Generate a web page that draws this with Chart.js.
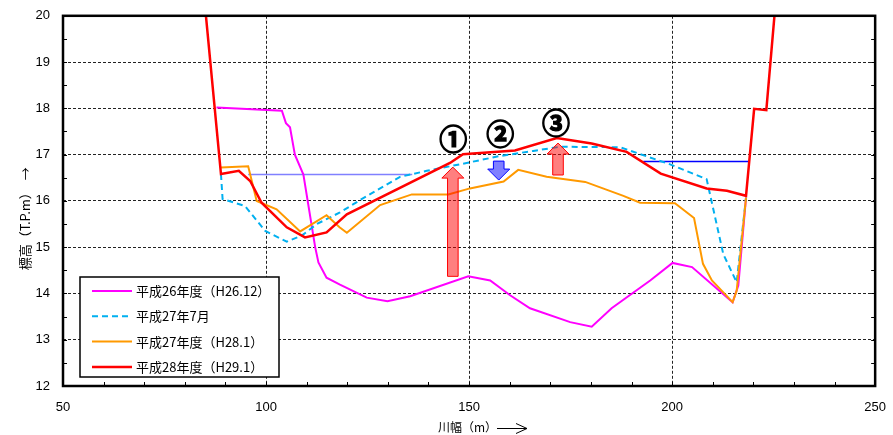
<!DOCTYPE html>
<html>
<head>
<meta charset="utf-8">
<script src="https://cdn.jsdelivr.net/npm/chart.js@4.4.0/dist/chart.umd.min.js"></script>
<style>
  html, body { margin: 0; padding: 0; background: #fff; overflow: hidden; }
  canvas { display: block; margin-top: -5px; }
</style>
</head>
<body>
<canvas id="myChart" width="900" height="440"></canvas>
<script>
// cross-section survey lines (x = river width m, y = elevation T.P.m)
var h26x = [87.8, 103.9, 104.9, 105.9, 107.1, 109.2, 112.1, 112.9, 114.9, 118.2, 124.8, 129.9, 135.5, 149.8, 155.2, 160.1, 165.0, 174.9, 180.2, 185.1, 194.6, 200.1, 204.9, 214.9, 216.3, 218.2]
var h26y = [18.02, 17.95, 17.68, 17.59, 17.0, 16.57, 15.0, 14.67, 14.34, 14.19, 13.91, 13.83, 13.94, 14.37, 14.28, 13.96, 13.68, 13.38, 13.28, 13.68, 14.28, 14.66, 14.57, 13.81, 14.17, 16.07]

var h27jx = [88.9, 89.3, 94.8, 99.8, 105.1, 108.8, 112.5, 118.2, 123.2, 133.0, 139.6, 149.4, 157.6, 165.8, 172.4, 187.2, 199.5, 208.5, 212.6, 215.9, 218.2]
var h27jy = [16.58, 16.04, 15.89, 15.35, 15.12, 15.25, 15.5, 15.75, 16.02, 16.52, 16.65, 16.82, 16.97, 17.08, 17.17, 17.16, 16.79, 16.47, 14.85, 14.24, 16.07]

var h28x = [88.8, 95.6, 97.7, 102.6, 108.4, 114.9, 118.1, 119.9, 128.1, 135.9, 144.9, 150.2, 158.5, 162.1, 169.1, 178.6, 188.0, 192.1, 200.7, 205.4, 207.6, 209.8, 214.9, 215.9, 218.2]
var h28y = [16.72, 16.75, 16.0, 15.82, 15.34, 15.69, 15.43, 15.31, 15.91, 16.14, 16.14, 16.27, 16.42, 16.67, 16.52, 16.41, 16.11, 15.96, 15.95, 15.63, 14.64, 14.28, 13.81, 14.06, 16.07]

var h29x = [85.2, 88.9, 93.3, 96.1, 98.9, 105.1, 109.6, 114.9, 119.9, 145.3, 148.5, 161.3, 171.6, 180.2, 188.8, 197.2, 208.5, 213.5, 218.2, 220.2, 223.2, 225.2]
var h29y = [20.0, 16.58, 16.65, 16.43, 15.96, 15.43, 15.21, 15.32, 15.71, 16.82, 17.01, 17.09, 17.36, 17.24, 17.06, 16.59, 16.27, 16.22, 16.11, 17.99, 17.96, 20.0]

// water levels
var wlLeftX = [95.6, 136.0]
var wlLeftY = [16.57, 16.57]
var wlRightX = [192.9, 218.8]
var wlRightY = [16.85, 16.85]

var seriesLabels = ['平成26年度（H26.12）', '平成27年7月', '平成27年度（H28.1）', '平成28年度（H29.1）']

// change arrows and their circled numbers
var arrowX = [146.0, 157.3, 171.9]
var arrowFrom = [14.37, 16.86, 16.56]
var arrowTo = [16.73, 16.45, 17.25]
var markText = ['①', '②', '③']
var markX = [146.1, 157.7, 171.4]
var markY = [17.33, 17.43, 17.68]

var xTicks = [50, 100, 150, 200, 250]
var yTicks = [12, 13, 14, 15, 16, 17, 18, 19, 20]

function pts(xs, ys) {
    var out = []
    for (let i = 0; i < xs.length; i++) out.push({x: xs[i], y: ys[i]})
    return out
}

var jp = '"Noto Sans CJK JP", sans-serif'

var drawExtras = {
    id: 'drawExtras',
    afterDatasetsDraw: function(chart) {
        var ctx = chart.ctx
        var xs = chart.scales.x, ys = chart.scales.y
        ctx.save()
        for (let i = 0; i < arrowX.length; i++) {
            var cx = xs.getPixelForValue(arrowX[i])
            var y0 = ys.getPixelForValue(arrowFrom[i])
            var y1 = ys.getPixelForValue(arrowTo[i])
            var dir = y1 < y0 ? 1 : -1
            var head = 11, bw = 5.3, hw = 11
            var yb = y1 + dir * head
            ctx.beginPath()
            ctx.moveTo(cx - bw, y0)
            ctx.lineTo(cx - bw, yb)
            ctx.lineTo(cx - hw, yb)
            ctx.lineTo(cx, y1)
            ctx.lineTo(cx + hw, yb)
            ctx.lineTo(cx + bw, yb)
            ctx.lineTo(cx + bw, y0)
            ctx.closePath()
            var up = dir === 1
            ctx.fillStyle = up ? 'rgba(255,0,0,0.5)' : 'rgba(0,0,255,0.5)'
            ctx.strokeStyle = up ? '#ff0000' : '#0000ff'
            ctx.lineWidth = 1
            ctx.fill()
            ctx.stroke()
        }
        // circled numbers, stroked a little to thicken the ring
        ctx.fillStyle = '#000'
        ctx.strokeStyle = '#000'
        ctx.lineWidth = 1.3
        ctx.font = 'bold 28px ' + jp
        ctx.textAlign = 'center'
        ctx.textBaseline = 'middle'
        for (let i = 0; i < markText.length; i++) {
            var mx = xs.getPixelForValue(markX[i]), my = ys.getPixelForValue(markY[i])
            ctx.fillText(markText[i], mx, my)
            ctx.strokeText(markText[i], mx, my)
        }
        ctx.restore()
    },
    afterDraw: function(chart) {
        var ctx = chart.ctx
        var a = chart.chartArea
        var xs = chart.scales.x, ys = chart.scales.y
        ctx.save()
        // small inner ticks
        ctx.strokeStyle = '#000'
        ctx.lineWidth = 1
        ctx.beginPath()
        for (let v = 12.5; v < 20; v += 0.5) {
            var py = Math.round(ys.getPixelForValue(v)) + 0.5
            ctx.moveTo(a.left, py)
            ctx.lineTo(a.left + 4, py)
            ctx.moveTo(a.right, py)
            ctx.lineTo(a.right - 4, py)
        }
        for (let v = 60; v < 250; v += 10) {
            var px = Math.round(xs.getPixelForValue(v)) + 0.5
            ctx.moveTo(px, a.bottom)
            ctx.lineTo(px, a.bottom - 4)
        }
        ctx.stroke()
        // frame
        ctx.lineWidth = 2.5
        ctx.strokeRect(a.left, a.top, a.right - a.left, a.bottom - a.top)

        // legend box
        var lx = a.left + 17, ly = a.bottom - 109
        ctx.fillStyle = '#fff'
        ctx.fillRect(lx, ly, 199, 100)
        ctx.lineWidth = 1.5
        ctx.strokeRect(lx, ly, 199, 100)
        var ds = chart.data.datasets
        ctx.font = '13px ' + jp
        ctx.textAlign = 'left'
        ctx.textBaseline = 'middle'
        for (let i = 0; i < seriesLabels.length; i++) {
            var d = ds[i]
            var yy = ly + 14 + i * 25.3
            ctx.beginPath()
            ctx.strokeStyle = d.borderColor
            ctx.lineWidth = d.borderWidth
            ctx.setLineDash(d.borderDash || [])
            ctx.moveTo(lx + 12, yy)
            ctx.lineTo(lx + 52, yy)
            ctx.stroke()
            ctx.setLineDash([])
            ctx.fillStyle = '#000'
            ctx.fillText(seriesLabels[i], lx + 56, yy)
        }

        // axis titles
        ctx.fillStyle = '#000'
        ctx.font = '13px ' + jp
        ctx.save()
        ctx.translate(25, a.top + 203)
        ctx.rotate(-Math.PI / 2)
        ctx.textAlign = 'center'
        ctx.fillText('標高（T.P.m）  →', 0, 0)
        ctx.restore()

        var ty = a.bottom + 41
        ctx.font = '12px ' + jp
        ctx.textAlign = 'left'
        ctx.fillText('川幅（m）', 438, ty)
        ctx.strokeStyle = '#000'
        ctx.lineWidth = 1
        ctx.beginPath()
        ctx.moveTo(497, ty + 1.5)
        ctx.lineTo(527, ty + 1.5)
        ctx.moveTo(516, ty - 3.5)
        ctx.lineTo(527, ty + 1.5)
        ctx.lineTo(516, ty + 6.5)
        ctx.stroke()
        ctx.restore()
    }
}

var ctx = document.getElementById('myChart')
var myChart = new Chart(ctx, {
    type: 'scatter',
    data: {
        datasets: [
            {label: seriesLabels[0], data: pts(h26x, h26y), showLine: true, borderColor: '#ff00ff', borderWidth: 2, pointRadius: 0, order: 3},
            {label: seriesLabels[1], data: pts(h27jx, h27jy), showLine: true, borderColor: '#00b0f0', borderWidth: 2, borderDash: [6, 4], pointRadius: 0, order: 2},
            {label: seriesLabels[2], data: pts(h28x, h28y), showLine: true, borderColor: '#ff9900', borderWidth: 2, pointRadius: 0, order: 1},
            {label: seriesLabels[3], data: pts(h29x, h29y), showLine: true, borderColor: '#ff0000', borderWidth: 2.5, pointRadius: 0, order: 0},
            {label: 'wl1', data: pts(wlLeftX, wlLeftY), showLine: true, borderColor: '#8080ff', borderWidth: 1.5, pointRadius: 0, order: 5},
            {label: 'wl2', data: pts(wlRightX, wlRightY), showLine: true, borderColor: '#0000ff', borderWidth: 1.5, pointRadius: 0, order: 4}
        ]
    },
    options: {
        responsive: false,
        animation: false,
        devicePixelRatio: 1,
        layout: {padding: {left: 0, top: 9, right: 11, bottom: 0}},
        plugins: {
            legend: {display: false},
            tooltip: {enabled: false}
        },
        scales: {
            x: {
                type: 'linear',
                min: 50, max: 250,
                afterBuildTicks: function(s) { s.ticks = xTicks.map(function(v) { return {value: v} }) },
                afterFit: function(s) { s.height = 49 },
                grid: {color: '#222', lineWidth: 1, drawTicks: false},
                border: {display: false, dash: [3, 2]},
                ticks: {padding: 14, color: '#000', font: {family: '"Liberation Sans", Arial', size: 13}, maxRotation: 0}
            },
            y: {
                type: 'linear',
                min: 12, max: 20,
                afterBuildTicks: function(s) { s.ticks = yTicks.map(function(v) { return {value: v} }) },
                afterFit: function(s) { s.width = 63 },
                grid: {color: '#222', lineWidth: 1, drawTicks: false},
                border: {display: false, dash: [3, 2]},
                ticks: {padding: 13, color: '#000', font: {family: '"Liberation Sans", Arial', size: 13}}
            }
        }
    },
    plugins: [drawExtras]
});
</script>
</body>
</html>
